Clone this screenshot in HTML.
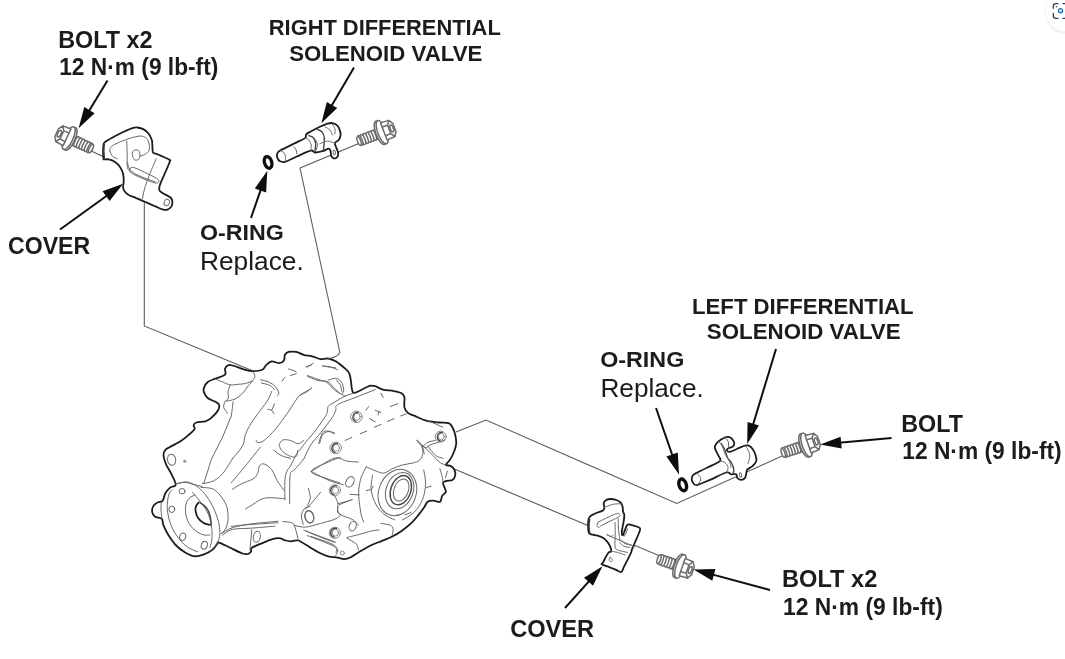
<!DOCTYPE html>
<html lang="en">
<head>
<meta charset="utf-8">
<title>Differential Solenoid Valve Removal</title>
<style>
html,body{margin:0;padding:0;background:#fff;}
body{width:1065px;height:659px;overflow:hidden;position:relative;font-family:"Liberation Sans",sans-serif;}
svg{position:absolute;left:0;top:0;display:block;}
text{font-family:"Liberation Sans",sans-serif;fill:#1a1a1a;}
.b{font-weight:700;font-size:23.4px;}
.r{font-weight:400;font-size:25.4px;}
.ld{stroke:#5c5c5c;stroke-width:1.1;fill:none;}
.ar{stroke:#111;fill:none;}
.ah{fill:#111;stroke:none;}
.ol{stroke:#1c1c1c;stroke-width:1.8;fill:#fff;stroke-linejoin:round;stroke-linecap:round;}
.on{stroke:#1c1c1c;stroke-width:1.8;fill:none;stroke-linejoin:round;stroke-linecap:round;}
.md{stroke:#444;stroke-width:1.4;fill:none;stroke-linejoin:round;stroke-linecap:round;}
.th{stroke:#686868;stroke-width:1;fill:none;stroke-linejoin:round;stroke-linecap:round;}
.lt{stroke:#8a8a8a;stroke-width:1;fill:none;stroke-linejoin:round;stroke-linecap:round;}
.da{stroke:#666;stroke-width:1;fill:none;stroke-dasharray:5 3;}
</style>
</head>
<body>
<svg width="1065" height="659" viewBox="0 0 1065 659">
<defs><filter id="soft" x="0" y="0" width="1065" height="659" filterUnits="userSpaceOnUse"><feGaussianBlur stdDeviation="0.6"/></filter></defs>
<rect width="1065" height="659" fill="#fff"/>
<g id="drawing" filter="url(#soft)">
<g id="leaders" class="ld">
<path d="M144.3 180V326L253 371"/>
<path d="M300 168L340 353"/>
<path d="M300 168L372 138"/>
<path d="M456 432L486 420L676.7 503.5L800 448"/>
<path d="M452 468L660 556"/>
<path d="M85 148L104 157"/>
</g>
<g id="body">
<path class="ol" d="M165.4 449.8C166.5 448.3 167.6 448.4 170.1 446.9C172.6 445.5 177.3 443.3 180.5 441.3C183.6 439.3 186.6 436.8 188.9 434.7C191.3 432.7 193.8 430.6 194.6 429.1C195.3 427.5 193.3 426.4 193.6 425.3C193.9 424.2 194.4 423.2 196.4 422.5C198.5 421.8 203.2 422.1 205.9 421.2C208.5 420.2 210.4 418.7 212.4 416.8C214.5 415 217 412.3 218.1 410.3C219.2 408.2 219.5 406 219 404.6C218.6 403.2 217.1 402.9 215.3 401.8C213.4 400.7 209.6 399.6 207.7 398C205.9 396.5 204.6 394.1 204 392.4C203.3 390.7 203.3 389.4 204 387.7C204.6 386 205.9 383.5 207.7 382C209.6 380.5 212.8 379.7 215.3 378.7C217.8 377.6 221.1 376.9 222.8 376C224.5 375.2 225.2 374.8 225.6 373.6C226 372.4 224.6 370.3 225 368.9C225.5 367.5 226.9 365.6 228.4 365.1C229.9 364.6 231.3 365.3 234.1 366C236.9 366.8 242.2 369 245.4 369.8C248.5 370.7 250.1 371.1 252.9 371.1C255.7 371.1 260.1 370.8 262.3 369.8C264.5 368.8 264.5 366.5 266.1 365.1C267.6 363.7 269.5 361.7 271.7 361.3C273.9 361 277.2 363.4 279.2 363.2C281.3 363.1 283 361.8 283.9 360.4C284.9 359 284.1 356.2 284.9 354.8C285.7 353.3 286.8 352.4 288.6 351.9C290.5 351.5 293.7 351.5 296.2 351.9C298.7 352.4 300.9 354 303.7 354.8C306.5 355.5 310.3 355.9 313.1 356.6C315.9 357.4 318.1 358.8 320.6 359.1C323.1 359.4 325.6 358.1 328.1 358.5C330.7 358.9 333.2 359.9 335.7 361.3C338.2 362.8 341.1 365.1 343.3 367C345.5 368.9 347.7 370.4 348.9 372.6C350.2 374.8 350.3 377.6 350.8 380.2C351.3 382.7 351.3 385.5 351.7 387.7C352.2 389.8 352.2 392.5 353.6 392.9C355 393.4 357.5 391.7 360.2 390.5C362.9 389.3 367.1 386.5 369.6 385.8C372.1 385.1 373.1 385.5 375.3 386.2C377.5 386.8 379.6 388.7 382.8 389.6C385.9 390.4 390.9 390.4 394.1 391.1C397.2 391.7 399.9 392.3 401.6 393.3C403.3 394.3 404 394.7 404.4 397.1C404.9 399.4 403.8 404.8 404.4 407.4C405 410.1 406.5 411.7 408.2 413.1C409.9 414.5 411.8 414.6 414.8 415.9C417.7 417.2 422 419.5 426.1 420.6C430.1 421.7 435.5 422.1 439.2 422.5C443 422.9 446.4 422.3 448.6 423.1C450.8 423.8 451.3 425.2 452.4 427.2C453.5 429.1 454.6 431.9 455.2 434.7C455.8 437.5 456.5 441 456.2 444.1C455.8 447.3 454.4 450.9 453.3 453.5C452.2 456.2 450.8 458.3 449.6 460.2C448.3 462.1 445.7 464 445.8 464.9C446 465.9 449.1 465.1 450.5 465.9C451.9 466.6 453.5 468 454.3 469.6C455.1 471.2 455.5 473.5 455.2 475.3C454.9 477 453.8 479 452.4 480C451 480.9 448.3 480.4 446.8 480.9C445.2 481.4 443.3 481.5 443 482.8C442.7 484 444.4 486.9 444.9 488.4C445.3 490 446.3 490.9 445.8 492.2C445.3 493.4 443 494.4 442.1 496C441.1 497.5 441.6 500.8 440.2 501.6C438.8 502.4 435.6 500.7 433.6 500.7C431.5 500.7 429.5 500.5 427.9 501.6C426.4 502.7 425.7 505 424.2 507.2C422.6 509.5 420.7 512.2 418.5 514.9C416.3 517.6 413.8 520.7 411 523.4C408.2 526 404.7 528.7 401.6 530.9C398.5 533.1 395.6 534.8 392.2 536.5C388.7 538.3 384.7 539.7 380.9 541.3C377.1 542.8 373.4 544.1 369.6 546C365.9 547.8 361.5 550.7 358.3 552.5C355.2 554.4 353.2 556.1 350.8 557.2C348.4 558.3 346.4 559.1 344.2 559.1C342 559.2 340.3 558.1 337.6 557.6C335 557.1 331.4 557.1 328.2 556.3C325.1 555.5 322 554.1 318.8 552.5C315.7 551 312.5 548.8 309.4 546.9C306.3 545 301.9 542.3 300 541.3C298.1 540.2 299.6 540.3 298 540.3C296.5 540.3 292.7 541.3 290.5 541.3C288.3 541.3 286.8 540.8 284.9 540.3C283 539.8 281.4 538.2 279.2 538.1C277 537.9 274.5 538.5 271.7 539.4C268.9 540.2 265.6 541.7 262.3 543.1C259 544.5 253.8 546.4 251.9 547.8C250.1 549.2 251.6 550.6 251 551.6C250.4 552.6 249.6 553.5 248.2 553.9C246.8 554.2 245.5 554.5 242.5 553.5C239.6 552.5 234.2 549.7 230.3 547.8C226.4 546 221.2 543.2 219 542.6C216.8 541.9 218.2 542.9 217.1 544.1C216 545.3 214.6 548 212.4 549.7C210.2 551.4 206.9 553.3 204 554.4C201 555.5 197.7 556.6 194.6 556.3C191.4 556 188.3 554.4 185.2 552.5C182 550.7 178.6 548 175.7 545C172.9 542 170.3 538 168.2 534.7C166.2 531.4 164.6 527.9 163.5 525.3C162.4 522.6 163 520.1 161.6 518.7C160.2 517.3 156.6 517.9 155.1 516.8C153.5 515.7 152.5 513.8 152.2 512.1C151.9 510.4 152.2 508.1 153.2 506.4C154.1 504.8 156.3 503.2 157.9 502.3C159.4 501.4 161.3 502.3 162.6 500.8C163.8 499.3 164.1 495.5 165.4 493.3C166.7 491.1 168.4 489 170.1 487.6C171.8 486.2 175.6 487.2 175.7 484.8C175.9 482.4 172.6 476.7 171 473.4C169.5 470.1 167.6 467.9 166.3 464.9C165.1 461.9 163.7 458 163.5 455.5C163.4 453 164.3 451.2 165.4 449.8Z"/>
<path class="th" d="M216.2 379.2C217.3 379.7 220.4 381.1 222.8 382C225.1 383 227.8 384.5 230.3 384.9C232.8 385.2 235.3 384.5 237.8 384.3C240.3 384.1 243 384.1 245.4 383.5C247.7 383 250.8 381.5 251.9 381.1"/>
<path class="th" d="M230.3 384.9C229.9 386 228.4 389.2 228.1 391.4C227.7 393.6 228.8 396.4 228.4 398C228 399.7 226.1 400.7 225.6 401.2"/>
<path class="th" d="M248.2 385.8C247.2 387.1 244.7 391.1 242.5 393.3C240.3 395.5 237.8 397.7 235 399C232.2 400.3 227.2 400.9 225.6 401.2"/>
<path class="th" d="M224.7 401.8C224.5 402.7 223.3 405.6 223.7 407.4C224.2 409.3 226.9 412.1 227.5 413.1"/>
<path class="th" d="M233.1 401.8C233 403 232.5 407 232.2 409.3C231.9 411.7 231.4 414.8 231.3 415.9"/>
<path class="th" d="M231.3 415.9L222.8 436.6L211.5 459L204 482.7"/>
<path class="th" d="M252.9 371.7C253.2 372.6 255.6 375 254.8 377.3C254 379.7 249.3 384.4 248.2 385.8"/>
<path class="th" d="M260.4 379.8C261.8 380.2 266.4 380.9 268.9 382C271.4 383.2 273.8 384.9 275.5 386.7C277.1 388.6 278.6 391.9 278.9 393.3C279.1 394.8 277.3 395.2 277 395.6"/>
<path class="th" d="M261.4 383C262.8 383.4 267.6 384.3 269.8 385.4C272 386.5 273.7 388.9 274.5 389.6"/>
<path class="th" d="M271.7 391.4C271.1 392.9 269.8 396.8 267.9 399.9C266.1 403 263.2 406.3 260.4 410.3C257.6 414.2 253.5 419.4 251 423.4C248.5 427.5 246.8 431 245.4 434.7C244 438.5 244.7 442 242.5 446C240.3 450.1 233.9 456.8 232.2 459"/>
<path class="th" d="M267.9 409.3C268.6 409.5 270.7 409.5 271.7 410.3C272.7 411 273.6 413.4 274 414"/>
<path class="th" d="M274.5 403.7L271.7 410.3"/>
<path class="th" d="M311.2 388.6C309.3 389.7 302.7 392.9 299.9 395.2C297.1 397.6 296.5 399.6 294.3 402.7C292.1 405.9 289.9 409.6 286.8 414C283.6 418.4 279.2 424.7 275.5 429.1C271.7 433.5 267.2 438.1 264.2 440.4C261.2 442.6 258.9 442.6 257.6 442.6C256.3 442.6 256.5 440.7 256.3 440.4"/>
<path class="th" d="M288.6 368.9L296.2 371.7"/>
<path class="th" d="M307.5 367L313.1 363.2"/>
<path class="th" d="M322.5 366L335.7 367.9"/>
<path class="th" d="M282.1 381.1L284.9 377.3"/>
<path class="th" d="M290.5 375.5L296.2 373.6"/>
<path class="th" d="M307.5 375.5C309.6 376.2 317.2 379.1 320.6 380.2C324.1 381.3 325.6 380.5 328.1 382C330.7 383.6 333.7 387.7 335.7 389.6C337.6 391.4 339.3 392.7 340 393.3"/>
<path class="ld" d="M338.6 352.9C338.7 353 339.6 353.2 339.1 353.8C338.7 354.4 337.7 355.8 335.7 356.6C333.8 357.5 328.7 358.7 327.3 359.1"/>
<path class="th" d="M305.6 367L311.3 365.1"/>
<path class="th" d="M322.6 366C323.8 366.2 327.6 366.4 330.1 367C332.6 367.6 336.4 369.3 337.6 369.8"/>
<path class="th" d="M307.5 376.4C309.1 377 313.8 379.2 316.9 380.2C320.1 381.1 323.5 380.5 326.3 382C329.2 383.6 331.7 387.7 333.9 389.6C336.1 391.4 337.6 392.2 339.5 393.3C341.4 394.4 344.2 395.7 345.2 396.1"/>
<path class="th" d="M328.2 380.2C329.5 379.8 333.6 378 335.7 378.3C337.9 378.6 340.1 380.2 341.4 382C342.7 383.9 343.5 387.6 343.7 389.6C343.8 391.5 342.6 393 342.3 393.7"/>
<path class="th" d="M336.7 380.2C337.3 381 339.6 383.5 340.5 385.4C341.3 387.3 341.5 390.4 341.8 391.4"/>
<path class="th" d="M300 395.2C301.3 394.6 305.6 392.7 307.5 391.4C309.4 390.2 310.7 388.3 311.3 387.7"/>
<path class="th" d="M353.6 393.3C352.2 393.8 348.8 394.4 345.2 396.1C341.5 397.9 334.8 401.9 332 403.7C329.2 405.4 329 405.1 328.2 406.5C327.4 407.9 327.9 410.3 327.3 412.1C326.7 414 326.5 414.6 324.5 417.8C322.4 420.9 318.2 426.9 315.1 431C311.9 435 308.2 439.1 305.6 442.2C303.1 445.4 300.9 448.5 300 449.8"/>
<path class="th" d="M375.3 389.6C372.1 390.8 362.7 394.6 356.4 397.1C350.2 399.6 341.1 402.4 337.6 404.6C334.2 406.8 336.7 408.1 335.7 410.3C334.8 412.5 334.5 414 332 417.8C329.5 421.5 324.1 428.4 320.7 432.8C317.2 437.2 314.1 439.8 311.3 444.1C308.5 448.5 305 456.5 303.8 459"/>
<ellipse class="lt" cx="356.4" cy="416.8" rx="5.8" ry="5.8"/>
<path class="md" stroke="#666" d="M355.6 421.4A4.7 4.7 0 0 1 358 412.5"/>
<ellipse class="lt" cx="357" cy="416.8" rx="3.2" ry="3.5"/>
<ellipse class="lt" cx="335.7" cy="447.9" rx="5.8" ry="5.8"/>
<path class="md" stroke="#666" d="M334.9 452.5A4.7 4.7 0 0 1 337.3 443.5"/>
<ellipse class="lt" cx="336.3" cy="447.9" rx="3.2" ry="3.5"/>
<path class="th" d="M345.2 440.4L351.7 437.5"/>
<path class="th" d="M360.2 433.8L366.8 431"/>
<path class="th" d="M374.3 427.2L380.9 424.4"/>
<path class="th" d="M387.5 421.5L394.1 418.7"/>
<path class="th" d="M400.7 415.9L406.3 414"/>
<path class="th" d="M365.9 410.3L368.7 406.5"/>
<path class="th" d="M375.3 410.3L380.9 412.5"/>
<path class="th" d="M378.1 415L379 411.2"/>
<path class="th" d="M369.6 418.7L375.3 421.9"/>
<path class="th" d="M390.3 406.5L397.8 403.7"/>
<path class="th" d="M380.9 393.3L383.2 397.5"/>
<path class="th" d="M318.8 443.2C319.4 441.5 321 434.9 322.6 432.8C324.1 430.8 326.3 430.8 328.2 431C330.1 431.1 332.9 433.3 333.9 433.8"/>
<ellipse class="lt" cx="440.7" cy="436.6" rx="5.5" ry="5.5"/>
<path class="md" stroke="#666" d="M440 440.9A4.4 4.4 0 0 1 442.2 432.5"/>
<ellipse class="lt" cx="441.3" cy="436.6" rx="3" ry="3.3"/>
<path class="th" d="M416.7 440.4C417.6 441.3 420.4 445.7 422.3 446C424.2 446.3 425.7 443.2 427.9 442.2C430.1 441.3 434.2 440.7 435.5 440.4"/>
<path class="th" d="M422.3 446L424.2 453.5"/>
<path class="th" d="M427.9 446C429.2 447.6 433 453.4 435.5 455.4C438 457.5 441.7 457.8 443 458.2"/>
<path class="th" d="M427.9 420.6L443 427.2"/>
<ellipse class="th" cx="171.6" cy="459.8" rx="4.1" ry="5.6" transform="rotate(-10 171.6 459.8)"/>
<circle cx="184.8" cy="461.2" r="1.6" fill="#999"/>
<path class="th" d="M232.6 458.7C230.9 461.1 226 469.7 222.8 473.4C219.6 477.1 216.8 479.2 213.4 480.9C209.9 482.6 204 483.3 202.1 483.7"/>
<path class="th" d="M260.4 447C257.9 450.2 250.2 459.9 245.4 465.9C240.5 471.8 233.6 480 231.3 482.8"/>
<path class="th" d="M279.2 444.2C279.9 443.5 281.1 440.5 283 439.9C284.9 439.3 288 439.8 290.5 440.5C293 441.1 295.8 443.7 298 443.7C300.2 443.7 302.7 441 303.7 440.5"/>
<path class="th" d="M279.2 444.8C279.6 445.7 279.9 448.6 281.5 450.4C283.1 452.2 286.3 454.4 288.6 455.5C291 456.6 294.3 457.7 295.8 456.8C297.3 456 297.4 451.5 297.7 450.4"/>
<path class="th" d="M273.6 449.9C274.8 450.8 278.3 454.1 281.1 455.5C283.9 456.9 288.9 457.9 290.5 458.3"/>
<path class="th" d="M299.9 449.9C299.3 450.6 297.7 451.9 296.2 454.6C294.6 457.2 292.1 463 290.5 465.9C288.9 468.7 287.7 469 286.8 471.5C285.8 474 285.2 476.2 284.9 480.9C284.6 485.6 284.9 496.6 284.9 499.7"/>
<path class="th" d="M303.7 458.9C302.9 459.9 300.7 463 299 464.9C297.3 466.9 294.8 468.8 293.3 470.6C291.9 472.3 290.8 469.8 290.1 475.3C289.5 480.7 289.7 498.8 289.6 503.5"/>
<path class="th" d="M232.2 489.4C233.8 488.4 238.1 485.4 241.6 483.7C245 482 250.2 480.7 252.9 479C255.6 477.3 256.5 475.6 257.6 473.4C258.7 471.2 258.4 467.4 259.5 465.9C260.6 464.3 262.1 463.3 264.2 464C266.2 464.6 269.5 466.8 271.7 469.6C273.9 472.4 275.3 477.5 277.3 480.9C279.4 484.4 282.8 488.7 283.9 490.3"/>
<path class="th" d="M245.4 509.1C246.6 508.3 250.1 506.1 252.9 504.4C255.7 502.7 259.2 499.9 262.3 498.8C265.4 497.7 267.9 497.8 271.7 497.8C275.5 497.8 282.7 498.6 284.9 498.8"/>
<path class="th" d="M319.7 443.3C320.2 441.9 321.1 436.8 322.5 434.8C323.9 432.9 326.1 431.9 328.1 431.6C330.2 431.3 333.6 432.7 334.7 432.9"/>
<path class="th" d="M340 457.4C338 458.2 332.9 459.7 328.1 462.1C323.3 464.4 311.2 468.7 311.2 471.5C311.2 474.3 323.3 477.1 328.1 479C332.9 480.9 338 482.2 340 482.8"/>
<path class="th" d="M308.4 488.4C308.7 490 310.4 495 310.3 497.8C310.1 500.7 307.9 504.1 307.5 505.4"/>
<path class="th" d="M320.6 492.2C319.1 494.1 313.7 500.7 311.2 503.5C308.7 506.3 306.5 508.2 305.6 509.1"/>
<path class="th" d="M175.7 483.7C177.3 483.5 182 482.3 185.2 482.4C188.3 482.6 191.7 484 194.6 484.7C197.4 485.4 200.8 486.2 202.1 486.5"/>
<path class="th" d="M177.5 483.7C178.9 483.4 183.3 481.7 186.2 481.9C189.1 482.1 192.2 483.4 195 485C197.7 486.5 199.9 488.5 202.4 491.2C204.9 493.9 207.9 497.9 209.9 501.2C212 504.6 213.5 507.7 214.9 511.2C216.4 514.7 217.8 518.9 218.7 522.5C219.5 526 219.9 529.5 219.9 532.4C219.9 535.4 219.5 537.6 218.7 539.9C217.8 542.2 216.4 544.3 214.9 546.2C213.5 548.1 210.8 550.3 209.9 551.2"/>
<path class="th" d="M171.8 490C171.3 490.8 169.5 492.1 168.7 495C168 497.9 167 502.9 167.2 507.5C167.4 512 168.5 517.9 170 522.5C171.5 527 173.5 531 176.2 534.9C178.9 538.9 182.7 543.4 186.2 546.2C189.7 549 195.6 550.9 197.5 551.8"/>
<path class="th" d="M192.5 492.5C193.7 493.9 197.7 498.3 199.9 501.2C202.2 504.1 204.5 507 206.2 510C207.9 512.9 209 515.6 209.9 518.7C210.9 521.8 211.5 525.2 211.8 528.7C212.1 532.2 212.1 536.8 211.8 539.9C211.5 543.1 210.3 546.2 209.9 547.4"/>
<path class="th" d="M201.2 487.5C203.1 487.7 209.3 487.5 212.4 488.7C215.6 490 217.6 492.3 219.9 495C222.2 497.7 224.8 501.6 226.2 505C227.5 508.3 227.8 511.8 228 515C228.3 518.1 227.9 521.2 227.4 523.7C226.9 526.2 226 528.3 224.9 529.9C223.9 531.6 221.8 533.1 221.2 533.7"/>
<path class="th" d="M195 495C193.9 495.6 190.3 496.8 188.7 498.7C187.1 500.6 186 503.3 185.6 506.2C185.2 509.1 185.5 513.1 186.2 516.2C186.9 519.3 188.3 522.5 190 524.9C191.6 527.4 193.9 529.5 196.2 531.2C198.5 532.9 201.4 534.3 203.7 534.9C206 535.6 208.9 534.9 209.9 534.9"/>
<path class="on" d="M198.7 502.5C198.2 503.1 196.5 504.8 196 506.2C195.4 507.7 195.2 509.2 195.6 511.2C195.9 513.2 196.7 516.1 198.1 518.1C199.4 520.1 201.7 521.9 203.7 523.1C205.7 524.2 208.9 524.6 209.9 524.9"/>
<path class="md" d="M199.9 502.7C201 503.5 204.5 505.4 206.2 507.5C207.9 509.5 209.1 512 209.9 515C210.8 517.9 211 523.3 211.2 524.9"/>
<ellipse class="th" cx="182.1" cy="491.2" rx="3" ry="2.7"/>
<ellipse class="th" cx="171.8" cy="509.3" rx="3" ry="3.2"/>
<ellipse class="th" cx="182.7" cy="536.8" rx="3" ry="3.7" transform="rotate(20 182.7 536.8)"/>
<ellipse class="th" cx="204.3" cy="545.2" rx="3" ry="4" transform="rotate(20 204.3 545.2)"/>
<path class="th" d="M161.2 503.1C161.2 504.2 160.9 507.5 161 510C161.1 512.5 161.7 516.7 161.9 518.1"/>
<path class="th" d="M221.2 533.7C223.1 532.7 227.4 529.3 232.4 527.7C237.4 526.1 243.6 525 251.2 523.9C258.7 522.9 273.5 521.7 278 521.2"/>
<path class="th" d="M231.2 526.4C233.5 526.2 237.1 525.6 244.9 524.9C252.7 524.3 272.5 523.1 278 522.7"/>
<path class="th" d="M222.4 535.2C224.1 534.2 227.4 530.6 232.4 529.4C237.4 528.3 245.3 528.6 252.4 528.1C259.5 527.5 271.1 526.5 274.9 526.2"/>
<path class="th" d="M251.8 529.9C251.6 531.6 251.2 536.6 250.9 539.9C250.6 543.3 250.1 548.3 249.9 549.9"/>
<ellipse class="th" cx="256.8" cy="536.8" rx="3.5" ry="5.6" transform="rotate(10 256.8 536.8)"/>
<path class="th" d="M283 521.5C284.2 521.7 288.6 521.8 290.5 522.4C292.4 523.1 293 522.6 294.3 525.3C295.5 527.9 297.4 536.2 298 538.4"/>
<ellipse class="th" cx="309.3" cy="516.8" rx="4.5" ry="6.2" transform="rotate(-15 309.3 516.8)"/>
<path class="th" d="M303.3 524.3C303 522.9 301.2 518.5 301.4 515.9C301.6 513.2 303.2 509.9 304.6 508.3C306.1 506.8 309.3 506.8 310.3 506.4"/>
<path class="th" d="M294.3 525.3C296.2 525.6 301.2 527.5 305.6 527.1C310 526.8 315.9 524.6 320.6 523.4C325.3 522.1 330.6 520.9 333.8 519.6C337 518.4 339 516.5 340 515.9"/>
<path class="th" d="M305.6 530.9C308.1 531.8 315.6 534.7 320.6 536.5C325.6 538.4 333.2 541.3 335.7 542.2"/>
<path class="th" d="M307.5 535.6C311.8 537.4 329 543.5 333.8 546.3C338.6 549.2 335.7 551.5 336 552.5"/>
<ellipse class="lt" cx="334.8" cy="490.3" rx="5.6" ry="5.6"/>
<path class="md" stroke="#666" d="M334 494.8A4.5 4.5 0 0 1 336.4 486.1"/>
<ellipse class="lt" cx="335.4" cy="490.3" rx="3.1" ry="3.4"/>
<ellipse class="lt" cx="334.8" cy="532.8" rx="5.6" ry="5.6"/>
<path class="md" stroke="#666" d="M334 537.2A4.5 4.5 0 0 1 336.4 528.5"/>
<ellipse class="lt" cx="335.4" cy="532.8" rx="3.1" ry="3.4"/>
<path class="th" d="M311.3 471.5C315.1 469.3 327.9 460.1 333.9 458.3C339.8 456.6 343 460.5 347 461.1C351.1 461.8 356.4 461.9 358.3 462.1"/>
<path class="th" d="M311.3 471.5C314.4 473.1 324.8 478.7 330.1 480.9C335.4 483.1 341.1 484 343.3 484.7"/>
<ellipse class="th" cx="349.9" cy="481.8" rx="3.8" ry="5.6" transform="rotate(30 349.9 481.8)"/>
<ellipse class="th" cx="309.4" cy="516.8" rx="4.1" ry="6.2" transform="rotate(-15 309.4 516.8)"/>
<ellipse class="th" cx="352.7" cy="526.2" rx="3.4" ry="4.9" transform="rotate(20 352.7 526.2)"/>
<ellipse class="lt" cx="342.3" cy="553.1" rx="2.1" ry="2.1"/>
<path class="th" d="M339.5 504.6L350.8 499.9"/>
<path class="th" d="M337.6 506.4C337.9 507.7 337 511.8 339.5 514C342 516.2 349.5 517.7 352.7 519.6C355.8 521.5 357.4 524.3 358.3 525.3"/>
<path class="th" d="M347 537.5C349.5 536.9 358 534.8 362.1 533.7C366.2 532.6 368.7 531.5 371.5 530.9C374.3 530.3 377.8 530.1 379 530"/>
<path class="th" d="M303.8 530C306.3 531.1 313.8 534.5 318.8 536.5C323.8 538.6 331.4 541.3 333.9 542.2"/>
<path class="th" d="M311.3 536.5C314.7 537.8 327.6 541.9 332 544.1C336.4 546.3 337 547.8 337.6 549.7C338.3 551.6 336.1 554.4 335.7 555.4"/>
<path class="th" d="M347 538.4C348.6 539.4 354.6 542.2 356.4 544.1C358.3 546 358 548.8 358.3 549.7"/>
<path class="th" d="M380.9 523.4C382.5 523.7 388.3 524.3 390.3 525.3C392.3 526.2 392.8 527.3 393.1 529C393.4 530.7 392.3 534.5 392.2 535.6"/>
<path class="th" d="M366.2 466.8C365.4 468.6 362.5 473.6 361.2 477.5C360 481.3 359 485.8 358.7 490C358.4 494.1 358.9 498.3 359.3 502.4C359.8 506.6 360.5 511.7 361.2 514.9C361.9 518.2 363.3 520.9 363.7 522"/>
<path class="th" d="M366.2 466.8C367.7 467.5 372 469.6 375 470.6C377.9 471.6 380.8 473.4 383.7 473.1C386.6 472.8 389.3 470.1 392.4 468.7C395.6 467.4 399.1 465.9 402.4 465C405.8 464 409.5 463.9 412.4 463.1C415.3 462.3 418.1 461.8 419.9 460C421.7 458.2 422.8 455 423 452.5C423.2 450 421.5 446.2 421.2 445"/>
<path class="th" d="M372.5 475C372.3 477.5 370.6 485 371.2 490C371.8 494.9 373.9 500.8 376.2 504.9C378.5 509.1 381.8 512.4 384.9 514.9C388.1 517.4 393.3 519.1 394.9 519.9"/>
<path class="th" d="M423.7 470C424 471.8 425.4 477.3 425.5 481.2C425.6 485.2 425.2 489.7 424.3 493.7C423.3 497.7 421.9 501.6 419.9 504.9C417.9 508.3 415.3 511.2 412.4 513.7C409.5 516.2 404.1 518.9 402.4 519.9"/>
<ellipse class="th" cx="397.4" cy="492.5" rx="18.7" ry="23.7" transform="rotate(20 397.4 492.5)"/>
<ellipse class="th" cx="399.6" cy="490.6" rx="13.5" ry="18.7" transform="rotate(20 399.6 490.6)"/>
<ellipse class="md" cx="400.8" cy="490.2" rx="10" ry="15.1" transform="rotate(20 400.8 490.2)"/>
<ellipse class="th" cx="401.2" cy="490" rx="7.2" ry="11.5" transform="rotate(20 401.2 490)"/>
<path class="th" d="M350 494.3L359.3 494.9"/>
<path class="th" d="M366.2 490.6C367 490.4 370.1 490.1 371.2 489.3C372.4 488.6 372.8 486.7 373.1 486.2"/>
<path class="th" d="M421.2 445C422.2 445.8 425.3 448.1 427.4 450C429.5 451.9 431.6 454.2 433.7 456.2C435.7 458.3 437.9 461 439.9 462.5C441.9 463.9 444.6 464.6 445.5 465"/>
<path class="th" d="M417.4 440C418.7 441.2 422.8 446.7 424.9 447.5C427 448.3 427.8 445.8 429.9 445C432 444.2 434.9 443.3 437.4 442.5C439.9 441.7 443.6 440.4 444.9 440"/>
<path class="th" d="M439.9 468.7C440.3 470.2 441.9 475.2 442.4 477.5C442.9 479.8 442.9 481.6 443 482.5"/>
<path class="th" d="M447.4 471.2L445.5 477.5"/>
<path class="th" d="M426.2 487.5L431.2 486.2"/>
<path class="th" d="M404.9 514.9L411.2 512.4"/>
<path class="th" d="M334.9 496.2C335.4 497.5 337.6 501.2 338 503.7C338.5 506.2 337.1 509.3 337.4 511.2C337.7 513.1 339.5 514.3 339.9 514.9"/>
<path class="th" d="M338 503.7C339.2 503.4 342.5 502.5 344.9 501.8C347.3 501.2 351.2 500.1 352.4 499.7"/>
</g>
<g id="parts">
<path class="ol" d="M103.7 143.7C104.2 142.1 104.3 142.5 106.2 141.2C108.1 140 111.8 137.9 114.9 136.2C118.1 134.6 122 132.6 124.9 131.2C127.8 129.9 130.3 128.7 132.4 128.1C134.5 127.5 135.5 127.3 137.4 127.5C139.3 127.7 141.8 128.3 143.7 129.4C145.5 130.4 147.3 132 148.7 133.7C150 135.5 151.2 137.9 151.8 140C152.4 142.1 152.2 144.1 152.4 146.2C152.6 148.3 152.2 151.1 153 152.5C153.9 153.8 155.4 153.5 157.4 154.3C159.4 155.2 162.8 156.5 164.9 157.5C167 158.4 169 159.3 169.9 160C170.7 160.6 170.3 160 169.9 161.2C169.5 162.5 168.6 164.8 167.4 167.5C166.3 170.2 164.3 174.6 163 177.5C161.8 180.4 160.5 182.9 159.9 185C159.3 187 158.9 188.6 159.3 190C159.7 191.3 161.1 192.1 162.4 193.1C163.8 194 166 194.7 167.4 195.6C168.9 196.4 170.3 196.9 171.2 198.1C172 199.2 172.4 201 172.4 202.5C172.4 203.9 172 205.6 171.2 206.8C170.3 208 168.9 209.3 167.4 209.7C166 210.1 164.5 209.9 162.4 209.3C160.3 208.7 157.8 207.4 154.9 206.2C152 204.9 148.1 203.2 144.9 201.8C141.8 200.5 138.9 199.2 136.2 198.1C133.5 196.9 130.6 196 128.7 195C126.8 193.9 125.9 193.1 125 191.8C124 190.6 123.3 189.2 123.1 187.5C122.9 185.7 123.7 183.5 123.7 181.2C123.7 178.9 123.7 176.1 123.1 173.7C122.5 171.3 121.3 168.8 120 166.9C118.6 164.9 116.8 163.1 115 161.9C113.1 160.6 110.6 159.8 108.7 159.4C106.8 158.9 104.6 159.7 103.7 159.4C102.8 159 103.6 158.8 103.4 157.5C103.3 156.1 103 153.5 103.1 151.2C103.1 148.9 103.2 145.4 103.7 143.7Z"/>
<path class="md" d="M104.3 144.3C104.3 145.5 103.9 148.9 103.9 151.2C104 153.5 104.4 156.9 104.4 158.1"/>
<path class="th" d="M109.9 151.2C110 150.6 109.7 148.6 110.6 147.5C111.4 146.3 112.5 145.6 114.9 144.3C117.3 143.1 121.6 141.2 124.9 140C128.3 138.7 132 137.5 134.9 136.9C137.8 136.2 140.3 135.8 142.4 136.2C144.5 136.6 146.3 137.9 147.4 139.4C148.5 140.8 149.1 143 149.3 145C149.5 146.9 149.6 149.6 148.7 151.2C147.7 152.9 145.1 154.1 143.7 155C142.2 155.8 140.5 156 139.9 156.2"/>
<path class="th" d="M126.8 141.2C126.9 143.5 127.1 150.6 127.2 155C127.3 159.3 126.8 164.5 127.4 167.5C128.1 170.4 130.5 171.6 131.2 172.4"/>
<path class="th" d="M132.4 152.5C132.7 151.2 133.9 150.3 134.9 150C136 149.7 137.8 149.8 138.7 150.6C139.5 151.4 139.9 153.5 139.9 155C139.9 156.4 139.5 158.5 138.7 159.3C137.8 160.2 135.9 160.3 134.9 160C134 159.6 133.5 158.7 133 157.5C132.6 156.2 132.1 153.7 132.4 152.5Z"/>
<path class="th" d="M109.9 151.2C110.4 152 111.2 155 112.4 156.2C113.7 157.5 116.6 158.3 117.4 158.7"/>
<path class="th" d="M130 168.7C130.6 168.1 131.2 166.9 133.7 167.5C136.2 168.1 141.2 170.7 144.9 172.5C148.7 174.2 153.9 176.7 156.2 178.1C158.5 179.5 158.7 179.8 158.7 180.6C158.7 181.4 158.5 183.3 156.2 183.1C153.9 182.9 148.7 180.8 144.9 179.3C141.2 177.9 136.2 175.7 133.7 174.4C131.2 173 130.6 172.2 130 171.2C129.3 170.3 129.3 169.4 130 168.7Z"/>
<path class="th" d="M127.5 162.5C127.8 163.5 128.1 166.9 129.3 168.7C130.6 170.6 132.3 172.2 134.9 173.7C137.6 175.3 141.6 176.7 144.9 178.1C148.3 179.5 153.3 181.2 154.9 181.8"/>
<path class="th" d="M156.2 158.7C155.1 161.2 151.8 168.9 149.9 173.7C148.1 178.5 146.2 183.3 144.9 187.5C143.7 191.6 142.9 196.8 142.4 198.7"/>
<ellipse class="th" cx="166.8" cy="202.5" rx="2.7" ry="3.2" transform="rotate(20 166.8 202.5)"/>
<path class="ol" d="M588.7 518.7C589.3 517 589.8 516.6 591.2 515.6C592.7 514.6 595.5 513.3 597.5 512.5C599.5 511.6 602 511.4 603.1 510.6C604.2 509.8 604.2 508.7 604.3 507.5C604.5 506.2 603.4 504.4 603.7 503.1C604 501.9 605.1 500.7 606.2 500C607.4 499.3 608.9 499 610.6 499C612.3 499 614.5 499.4 616.2 500C617.9 500.6 619.5 501.4 620.6 502.5C621.6 503.5 622 504.7 622.5 506.2C622.9 507.8 622.8 510.4 623.1 511.9C623.4 513.3 624.2 513.4 624.3 515C624.4 516.5 624 519.1 623.7 521.2C623.4 523.3 622.8 525.4 622.5 527.5C622.1 529.5 621.7 532.5 621.8 533.7C621.9 535 622.6 535.6 623.1 535C623.6 534.3 624.3 531.5 625 530C625.6 528.4 626.2 526.5 626.8 525.6C627.5 524.7 627.6 524.3 628.7 524.3C629.8 524.3 631.8 525 633.7 525.6C635.6 526.2 639.1 526.7 639.9 528.1C640.8 529.4 639.5 531.3 638.7 533.7C637.9 536.1 636.1 539.7 634.9 542.5C633.8 545.2 632.4 548.3 631.8 549.9C631.2 551.6 631.9 550.8 631.2 552.4C630.5 554.1 628.7 557.4 627.5 559.9C626.2 562.4 624.7 565.4 623.7 567.4C622.7 569.4 622.5 571.6 621.2 572C620 572.5 618.3 570.8 616.2 569.9C614.1 569.1 611.1 567.7 608.7 566.8C606.3 565.9 602.8 565 601.8 564.3C600.9 563.6 602.4 563.8 603.1 562.4C603.8 561.1 605.3 557.9 606.2 556.2C607.2 554.5 607.9 553.3 608.7 552.4C609.6 551.6 611 552.2 611.2 551.2C611.4 550.2 610.7 547.9 610 546.2C609.2 544.5 608.1 542.7 606.8 541.2C605.6 539.7 604 538.4 602.5 537.5C600.9 536.5 599.4 536.1 597.5 535.6C595.6 535.1 592.7 534.9 591.2 534.3C589.8 533.8 589.3 533.8 588.7 532.5C588.2 531.1 588.1 528.5 588.1 526.2C588.1 523.9 588.2 520.5 588.7 518.7Z"/>
<path class="md" d="M589.7 519.3C589.6 520.5 589.1 524.1 589.1 526.2C589.1 528.4 589.6 531.2 589.7 532.2"/>
<path class="th" d="M597.5 523.7C597.9 522.9 596.9 522.9 600 521.2C603.1 519.6 613 514.9 616.2 513.7C619.4 512.6 618.9 513.8 619.3 514.4C619.7 514.9 621.5 515.1 618.7 516.8C615.9 518.6 605.8 523.2 602.5 525C599.1 526.7 599.6 527.3 598.7 527.5C597.9 527.7 597.4 526.8 597.2 526.2C597 525.6 597 524.6 597.5 523.7Z"/>
<path class="th" d="M604.3 507.5C605.7 507 609.7 505 612.5 504.4C615.3 503.7 619.7 503.8 621.2 503.7"/>
<path class="th" d="M615 522.5C615 524.3 615.2 529.8 615.2 533.7C615.2 537.7 614.6 543.5 615 546.2C615.3 548.9 615.4 548.9 617.5 549.9C619.5 551 625.8 552 627.5 552.4"/>
<path class="th" d="M618.1 518.7C618.2 520.8 618.4 527.7 618.7 531.2C619 534.7 619.7 538.5 620 540"/>
<path class="th" d="M621.2 540C621.8 540.6 623.3 542.9 625 543.7C626.6 544.5 630.2 544.7 631.2 544.9"/>
<path class="th" d="M620 542.5C620.6 543.1 622 545.4 623.7 546.2C625.4 547 628.9 547.2 629.9 547.4"/>
<path class="th" d="M627.5 528.7C627.2 529.3 626.7 531.2 626.2 532.5C625.7 533.7 624.6 535.6 624.3 536.2"/>
<path class="th" d="M607.5 535C608.1 535.3 610.4 536.8 611.2 536.8C612 536.8 612.3 535.3 612.5 535"/>
<path class="th" d="M610 557.4C610.5 557.3 612.3 559.2 612.5 559.9C612.7 560.7 611.7 561.7 611.2 561.8C610.7 561.9 609.6 561.3 609.3 560.6C609.1 559.8 609.4 557.5 610 557.4Z"/>
<path class="th" d="M611.2 551.2C612.3 551.4 615.2 551.8 617.5 552.4C619.7 553.1 623.7 554.5 625 554.9"/>
<path class="th" d="M606.8 534.7L621.2 541L634.9 546.8"/>
<ellipse cx="268.1" cy="162.4" rx="3.6" ry="6" transform="rotate(-18 268.1 162.4)" fill="#fff" stroke="#111" stroke-width="3.3"/>
<ellipse cx="682.7" cy="484.9" rx="3.6" ry="6.1" transform="rotate(-18 682.7 484.9)" fill="#fff" stroke="#111" stroke-width="3.4"/>
<path class="ol" d="M285 161.8C282.3 162.5 281.2 161.8 280 161.2C278.7 160.6 277.9 159.3 277.5 158.1C277 156.8 276.8 154.9 277.2 153.7C277.6 152.5 278.7 151.5 280 150.6C281.3 149.6 282.5 149.3 285 148.1C287.5 146.8 291.6 144.7 295 143.1C298.3 141.4 303.1 139.5 305 138.1C306.8 136.6 305.2 135.5 306.2 134.3C307.2 133.2 308.9 132.5 311.2 131.2C313.5 130 317.2 128.1 319.9 126.8C322.6 125.6 325.4 124.4 327.4 123.7C329.5 123.1 330.8 122.8 332.4 123.1C334.1 123.4 336.2 124.4 337.4 125.6C338.7 126.8 339.4 128.9 339.9 130.6C340.4 132.3 340.8 134 340.5 135.6C340.3 137.2 339.6 138.7 338.7 140C337.7 141.2 335.3 141.8 334.9 143.1C334.5 144.3 335.7 145.9 336.2 147.5C336.7 149 337.8 150.9 338 152.5C338.3 154 338.2 155.8 337.4 156.8C336.7 157.8 334.7 158.7 333.7 158.4C332.6 158.2 331.7 156.8 331.2 155.6C330.7 154.4 331 152.3 330.6 151.2C330.1 150.1 330 148.7 328.7 148.7C327.3 148.7 324.7 150.6 322.4 151.2C320.1 151.8 316.9 152.6 314.9 152.5C313 152.3 313.7 149.8 310.6 150.6C307.5 151.3 300.5 154.9 296.2 156.8C291.9 158.7 287.7 161.1 285 161.8Z"/>
<path class="th" d="M280 150.6C280.6 150.9 282.8 151.4 283.7 152.5C284.7 153.5 285.4 155.3 285.6 156.8C285.8 158.4 285.1 161 285 161.8"/>
<path class="th" d="M305 138.1C305.6 138.4 307.7 138.8 308.7 140C309.7 141.1 310.9 143.2 311.2 145C311.5 146.7 310.7 149.6 310.6 150.6"/>
<path class="md" d="M308.7 135.6C309.4 135.9 311.9 136.2 313.1 137.5C314.2 138.7 315.3 140.7 315.6 143.1C315.9 145.5 315 150.4 314.9 151.8"/>
<path class="md" d="M317.4 129.3C318.2 129.8 320.7 130.5 321.8 131.8C323 133.2 324 134.3 324.3 137.5C324.6 140.6 323.6 148.4 323.4 150.6"/>
<path class="th" d="M313.7 137.5C314.3 138.5 317 141.6 317.4 143.7C317.9 145.8 316.4 148.9 316.2 150"/>
<path class="th" d="M324.9 126.8C325.8 127.4 328.7 128.6 329.9 130C331.2 131.3 332 134.1 332.4 135"/>
<path class="th" d="M332.4 124.4C332.8 125.1 334.5 127.2 334.9 128.7C335.3 130.3 334.9 132.9 334.9 133.7"/>
<path class="th" d="M319.9 143.7C321.2 143.3 324.9 141.3 327.4 141.2C329.9 141.1 333.7 142.8 334.9 143.1"/>
<path class="th" d="M293.7 146.8C294.1 147.4 295.7 148.8 296.2 150C296.7 151.1 296.7 153.1 296.8 153.7"/>
<ellipse class="th" cx="334.3" cy="152.5" rx="1.2" ry="2.2" transform="rotate(-10 334.3 152.5)"/>
<path class="ol" d="M697.5 484.9C694.8 485.6 694.7 484.5 693.7 483.7C692.8 482.9 692 481.3 691.8 479.9C691.7 478.6 692 476.7 692.7 475.6C693.4 474.4 693.8 474.4 696.2 473.1C698.7 471.7 703.5 469.4 707.5 467.5C711.4 465.5 718.1 463.1 719.9 461.2C721.8 459.3 719.4 458.1 718.7 456.2C718 454.3 716.2 451.6 715.6 450C714.9 448.3 714.4 447.7 714.9 446.2C715.5 444.8 717 442.7 718.7 441.2C720.4 439.8 723.3 438.2 724.9 437.5C726.6 436.8 727.4 436.6 728.7 436.9C729.9 437.2 731.5 438.2 732.4 439.4C733.4 440.5 734.3 442.5 734.3 443.7C734.3 445 733.4 446.1 732.4 446.9C731.5 447.6 729.6 447.6 728.7 448.1C727.7 448.6 726.6 449.4 726.8 450C727 450.6 728.2 452.1 729.9 451.8C731.7 451.6 734.9 449.8 737.4 448.7C739.9 447.7 743 446.1 744.9 445.6C746.8 445.1 747.4 445.1 748.7 445.6C749.9 446.1 751.3 447.2 752.4 448.7C753.6 450.3 754.9 452.9 755.5 455C756.2 457.1 756.7 459.3 756.2 461.2C755.6 463.1 753.9 464.9 752.4 466.2C751 467.6 748.5 468.1 747.4 469.3C746.4 470.6 746.6 472.2 746.2 473.7C745.8 475.2 745.8 477 744.9 478.1C744.1 479.1 742.4 479.9 741.2 479.9C739.9 479.9 738.3 479 737.4 478.1C736.6 477.1 737.2 475 736.2 474.3C735.1 473.7 732.8 474.6 731.2 474.3C729.5 474 729.7 471.5 726.2 472.5C722.6 473.4 714.7 477.9 710 479.9C705.2 482 700.2 484.3 697.5 484.9Z"/>
<path class="th" d="M696.2 473.1C696.7 473.5 698.6 474.4 699.3 475.6C700.1 476.7 700.9 478.4 700.6 479.9C700.3 481.5 698 484.1 697.5 484.9"/>
<path class="th" d="M719.9 461.2C720.8 461.4 723.6 461.4 724.9 462.5C726.3 463.5 727.9 465.8 728.1 467.5C728.3 469.1 726.5 471.6 726.2 472.5"/>
<path class="md" d="M721.2 443.7C721.8 444.8 723.9 447.7 724.9 450C726 452.3 726.4 455.4 727.4 457.5C728.5 459.6 730.1 460.6 731.2 462.5C732.2 464.3 733.4 466.7 733.7 468.7C734 470.7 733.2 473.4 733.1 474.3"/>
<path class="th" d="M718.7 441.2C719.3 442.1 721.4 444.1 722.4 446.2C723.5 448.3 723.8 451.2 724.9 453.7C726.1 456.2 728.3 458.9 729.3 461.2C730.4 463.5 730.9 466.4 731.2 467.5"/>
<path class="th" d="M744.9 445.6C745.4 446.3 747.3 448.2 748 450C748.8 451.7 749.7 453.9 749.7 456.2C749.7 458.5 748.3 462.5 748 463.7"/>
<path class="th" d="M724.9 437.5C725.5 438.1 727.4 439.5 728.1 441.2C728.7 443 728.6 447 728.7 448.1"/>
<ellipse class="th" cx="740.5" cy="475" rx="1.2" ry="2.2" transform="rotate(-10 740.5 475)"/>
<g transform="translate(55.7 132) rotate(25) scale(1 1)" fill="#fff" stroke="#6a6a6a" stroke-width="1.5" stroke-linejoin="round"><path d="M18 -4.9L39 -4.6M18 4.9L39 4.6"/><ellipse cx="20.2" cy="0" rx="1.8" ry="5.3"/><ellipse cx="23.1" cy="0" rx="1.8" ry="5.3"/><ellipse cx="26" cy="0" rx="1.8" ry="5.3"/><ellipse cx="28.9" cy="0" rx="1.8" ry="5.3"/><ellipse cx="31.8" cy="0" rx="1.8" ry="5.3"/><ellipse cx="34.7" cy="0" rx="1.8" ry="5.3"/><ellipse cx="37.6" cy="0" rx="1.8" ry="5.3"/><ellipse cx="39" cy="0" rx="1.6" ry="4.6"/><ellipse cx="16.3" cy="0" rx="4.4" ry="12.4"/><ellipse cx="14.3" cy="0" rx="4.4" ry="12.4"/><path d="M4 -8.6L12.5 -9.2L12.5 9.2L4 8.6Z"/><path d="M4 -8.6L1.2 -4.4L1.2 4.4L4 8.6L6.8 4.4L6.8 -4.4Z"/><path d="M6.8 -4.4L13 -4.8M6.8 4.4L13 4.8"/><ellipse cx="4" cy="0" rx="1.6" ry="3.6"/></g>
<g transform="translate(395.5 127) rotate(-21) scale(-1 1)" fill="#fff" stroke="#6a6a6a" stroke-width="1.5" stroke-linejoin="round"><path d="M18 -4.9L39 -4.6M18 4.9L39 4.6"/><ellipse cx="20.2" cy="0" rx="1.8" ry="5.3"/><ellipse cx="23.1" cy="0" rx="1.8" ry="5.3"/><ellipse cx="26" cy="0" rx="1.8" ry="5.3"/><ellipse cx="28.9" cy="0" rx="1.8" ry="5.3"/><ellipse cx="31.8" cy="0" rx="1.8" ry="5.3"/><ellipse cx="34.7" cy="0" rx="1.8" ry="5.3"/><ellipse cx="37.6" cy="0" rx="1.8" ry="5.3"/><ellipse cx="39" cy="0" rx="1.6" ry="4.6"/><ellipse cx="16.3" cy="0" rx="4.4" ry="12.4"/><ellipse cx="14.3" cy="0" rx="4.4" ry="12.4"/><path d="M4 -8.6L12.5 -9.2L12.5 9.2L4 8.6Z"/><path d="M4 -8.6L1.2 -4.4L1.2 4.4L4 8.6L6.8 4.4L6.8 -4.4Z"/><path d="M6.8 -4.4L13 -4.8M6.8 4.4L13 4.8"/><ellipse cx="4" cy="0" rx="1.6" ry="3.6"/></g>
<g transform="translate(820 440.2) rotate(-19) scale(-1 1)" fill="#fff" stroke="#6a6a6a" stroke-width="1.5" stroke-linejoin="round"><path d="M18 -4.9L39 -4.6M18 4.9L39 4.6"/><ellipse cx="20.2" cy="0" rx="1.8" ry="5.3"/><ellipse cx="23.1" cy="0" rx="1.8" ry="5.3"/><ellipse cx="26" cy="0" rx="1.8" ry="5.3"/><ellipse cx="28.9" cy="0" rx="1.8" ry="5.3"/><ellipse cx="31.8" cy="0" rx="1.8" ry="5.3"/><ellipse cx="34.7" cy="0" rx="1.8" ry="5.3"/><ellipse cx="37.6" cy="0" rx="1.8" ry="5.3"/><ellipse cx="39" cy="0" rx="1.6" ry="4.6"/><ellipse cx="16.3" cy="0" rx="4.4" ry="12.4"/><ellipse cx="14.3" cy="0" rx="4.4" ry="12.4"/><path d="M4 -8.6L12.5 -9.2L12.5 9.2L4 8.6Z"/><path d="M4 -8.6L1.2 -4.4L1.2 4.4L4 8.6L6.8 4.4L6.8 -4.4Z"/><path d="M6.8 -4.4L13 -4.8M6.8 4.4L13 4.8"/><ellipse cx="4" cy="0" rx="1.6" ry="3.6"/></g>
<g transform="translate(694 571.2) rotate(19) scale(-1 1)" fill="#fff" stroke="#6a6a6a" stroke-width="1.5" stroke-linejoin="round"><path d="M18 -4.9L37 -4.6M18 4.9L37 4.6"/><ellipse cx="20.2" cy="0" rx="1.8" ry="5.3"/><ellipse cx="23.1" cy="0" rx="1.8" ry="5.3"/><ellipse cx="26" cy="0" rx="1.8" ry="5.3"/><ellipse cx="28.9" cy="0" rx="1.8" ry="5.3"/><ellipse cx="31.8" cy="0" rx="1.8" ry="5.3"/><ellipse cx="34.7" cy="0" rx="1.8" ry="5.3"/><ellipse cx="37" cy="0" rx="1.6" ry="4.6"/><ellipse cx="16.3" cy="0" rx="4.4" ry="12.4"/><ellipse cx="14.3" cy="0" rx="4.4" ry="12.4"/><path d="M4 -8.6L12.5 -9.2L12.5 9.2L4 8.6Z"/><path d="M4 -8.6L1.2 -4.4L1.2 4.4L4 8.6L6.8 4.4L6.8 -4.4Z"/><path d="M6.8 -4.4L13 -4.8M6.8 4.4L13 4.8"/><ellipse cx="4" cy="0" rx="1.6" ry="3.6"/></g>
</g>
<g id="arrows">
<path class="ar" d="M107.5 80.5L88.4 111.9" stroke-width="2.0"/><path class="ah" d="M78.6 128.2L84.3 107.1L94.6 113.3Z"/>
<path class="ar" d="M60 229.5L107.8 195" stroke-width="2.0"/><path class="ah" d="M123.1 183.8L109.6 201L102.6 191.3Z"/>
<path class="ar" d="M354 67.5L331 106.8" stroke-width="2.0"/><path class="ah" d="M321.4 123.2L326.8 102L337.2 108.1Z"/>
<path class="ar" d="M251 218L261.1 188.7" stroke-width="2.0"/><path class="ah" d="M267.3 170.7L266.1 192.6L254.8 188.6Z"/>
<path class="ar" d="M776 349L752.7 425.7" stroke-width="2.0"/><path class="ah" d="M747.2 443.9L747.5 422L759 425.5Z"/>
<path class="ar" d="M656 408L672.8 456.5" stroke-width="2.0"/><path class="ah" d="M679 474.5L666.4 456.6L677.8 452.6Z"/>
<path class="ar" d="M891.5 438L839.1 442.8" stroke-width="2.0"/><path class="ah" d="M820.2 444.6L840.6 436.7L841.7 448.6Z"/>
<path class="ar" d="M565 608L589.8 580.3" stroke-width="2.0"/><path class="ah" d="M602.5 566.2L593 585.8L584 577.8Z"/>
<path class="ar" d="M770 590L711.9 574.4" stroke-width="2.0"/><path class="ah" d="M693.5 569.5L715.4 569.1L712.3 580.7Z"/>
</g>
<g id="labels">
<text class="b" transform="translate(58.20 47.60) scale(0.9978 1)">BOLT x2</text>
<text class="b" transform="translate(59.23 75.10) scale(0.9716 1)">12 N·m (9 lb-ft)</text>
<text class="b" style="font-size:22.8px" transform="translate(268.78 35.10) scale(0.9594 1)">RIGHT DIFFERENTIAL</text>
<text class="b" style="font-size:22.8px" transform="translate(289.22 61.30) scale(0.9755 1)">SOLENOID VALVE</text>
<text class="b" transform="translate(8.01 253.80) scale(0.9877 1)">COVER</text>
<text class="b" style="font-size:22.5px" transform="translate(199.97 240.00) scale(1.0329 1)">O-RING</text>
<text class="r" transform="translate(199.93 270.40) scale(1.0365 1)">Replace.</text>
<text class="b" style="font-size:22.8px" transform="translate(692.06 313.80) scale(0.9724 1)">LEFT DIFFERENTIAL</text>
<text class="b" style="font-size:22.8px" transform="translate(706.82 339.00) scale(0.9796 1)">SOLENOID VALVE</text>
<text class="b" style="font-size:22.5px" transform="translate(600.16 366.50) scale(1.0354 1)">O-RING</text>
<text class="r" transform="translate(600.44 396.50) scale(1.0312 1)">Replace.</text>
<text class="b" transform="translate(901.21 431.70) scale(0.9967 1)">BOLT</text>
<text class="b" transform="translate(902.23 458.80) scale(0.9741 1)">12 N·m (9 lb-ft)</text>
<text class="b" transform="translate(510.19 636.60) scale(1.0099 1)">COVER</text>
<text class="b" transform="translate(781.98 587.20) scale(1.0087 1)">BOLT x2</text>
<text class="b" transform="translate(783.02 614.80) scale(0.9753 1)">12 N·m (9 lb-ft)</text>
</g>
</g>
<g id="lens">
<defs><filter id="sh" x="-30%" y="-30%" width="160%" height="160%"><feGaussianBlur stdDeviation="1.6"/></filter></defs>
<circle cx="1066" cy="13" r="20" fill="#e9e6e2" filter="url(#sh)"/>
<circle cx="1066" cy="11.5" r="20" fill="#fff"/>
<g fill="none" stroke="#2b4257" stroke-width="1.3" stroke-linecap="round">
<path d="M1053.3 8.3V6.2Q1053.3 3.6 1056 3.6H1058"/>
<path d="M1053.3 13.3V15.8Q1053.3 18.4 1056 18.4H1058"/>
<path d="M1063 3.6H1066M1063 18.4H1066"/>
</g>
<circle cx="1060.5" cy="10.8" r="2.1" fill="#d4ecff" stroke="#2a6ea3" stroke-width="1.3"/>
<circle cx="1056.4" cy="6.8" r="0.8" fill="#2b4257"/>
</g>
</svg>
</body>
</html>
